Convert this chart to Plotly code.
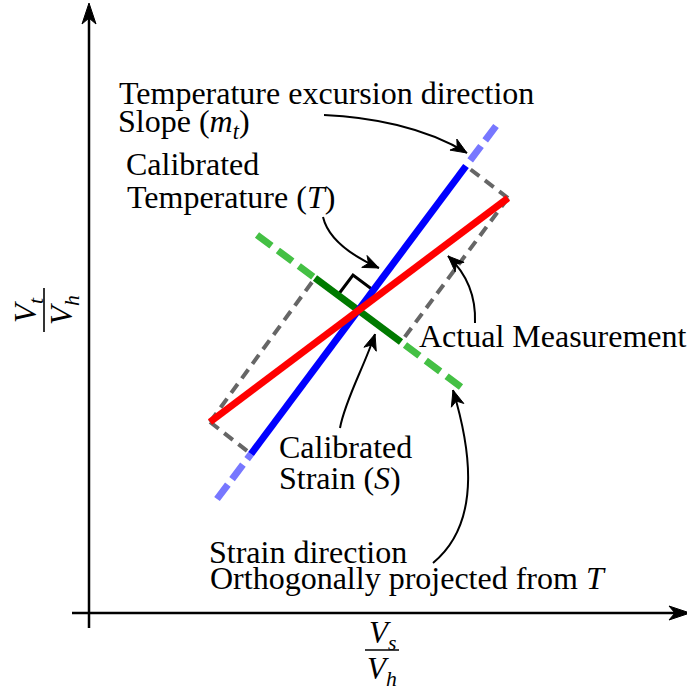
import plotly.graph_objects as go
import numpy as np

# ---------------- data (diagram coordinates, origin at the axes' crossing) ----------------
measurement_x = [121, 419]
measurement_y = [191, 415]

temperature_x = [162, 377]
temperature_y = [159, 447]
temp_ext_upper_x = [407, 377]
temp_ext_upper_y = [487, 447]
temp_ext_lower_x = [128, 162]
temp_ext_lower_y = [114, 159]

strain_x = [226, 312]
strain_y = [335, 271]
strain_ext_left_x = [168, 226]
strain_ext_left_y = [378, 335]
strain_ext_right_x = [372, 312]
strain_ext_right_y = [226, 271]

proj_segments = [
    ([419, 377], [415, 447]),
    ([419, 312], [415, 271]),
    ([121, 162], [191, 159]),
    ([121, 226], [191, 335]),
]

right_angle_x = [249, 264, 284]
right_angle_y = [318, 338, 323]

# curved callout arrows: start, control1, control2, tip
arrow_curves = [
    [(235, 498), (281, 496), (336, 486), (378, 460)],
    [(234, 396), (239, 375), (261, 358), (290, 345)],
    [(386, 290), (387, 315), (379, 338), (359, 357)],
    [(251, 185), (256, 213), (276, 248), (286, 279)],
    [(344, 50), (396, 93), (379, 173), (364, 223)],
]

# text labels: (x, y, text)
labels = [
    (28, 520, "Temperature excursion direction"),
    (27, 490, "Slope (<i>m</i><sub><i>t</i></sub>)"),
    (35, 449, "Calibrated"),
    (36, 416, "Temperature (<i>T</i>)"),
    (328, 277, "Actual Measurement"),
    (188, 166, "Calibrated"),
    (188, 135, "Strain (<i>S</i>)"),
    (118, 61, "Strain direction"),
    (119, 35, "Orthogonally projected from <i>T</i>"),
]

y_axis_x = [0, 0]
y_axis_y = [-15, 610]
x_axis_x = [-17, 601]
x_axis_y = [0, 0]

FONT = "Liberation Serif"
FS = 32

fig = go.Figure()

def seg(x, y, color, width, dash="solid"):
    fig.add_trace(go.Scatter(x=x, y=y, mode="lines",
                             line=dict(color=color, width=width, dash=dash),
                             hoverinfo="skip", showlegend=False))

for sx, sy in proj_segments:
    seg(sx, sy, "#666666", 4, "11px,7px")
seg(temp_ext_upper_x, temp_ext_upper_y, "#7777ff", 7, "18px,7px")
seg(temp_ext_lower_x, temp_ext_lower_y, "#7777ff", 7, "18px,7px")
seg(strain_ext_left_x, strain_ext_left_y, "#44c044", 7, "18px,8px")
seg(strain_ext_right_x, strain_ext_right_y, "#44c044", 7, "18px,8px")
seg(right_angle_x, right_angle_y, "black", 3)
seg(strain_x, strain_y, "#007a00", 7)
seg(temperature_x, temperature_y, "#0000ff", 7)
seg(measurement_x, measurement_y, "#ff0000", 7)

shapes = []

def head_path(tip, frm, L, Wd):
    tip = np.array(tip, float)
    frm = np.array(frm, float)
    d = tip - frm
    d /= np.linalg.norm(d)
    n = np.array([-d[1], d[0]])
    back = tip - L * d
    left = back + Wd * n
    right = back - Wd * n
    notch = tip - 0.72 * L * d
    pts = [tip, left, notch, right]
    return "M " + " L ".join(f"{p[0]:.2f},{p[1]:.2f}" for p in pts) + " Z"

for p0, p1, p2, p3 in arrow_curves:
    shapes.append(dict(type="path", xref="x", yref="y",
                       path=f"M {p0[0]},{p0[1]} C {p1[0]},{p1[1]} {p2[0]},{p2[1]} {p3[0]},{p3[1]}",
                       line=dict(color="black", width=2), fillcolor="rgba(0,0,0,0)", layer="above"))
    shapes.append(dict(type="path", xref="x", yref="y", path=head_path(p3, p2, 16, 6.5),
                       line=dict(color="black", width=1), fillcolor="black", layer="above"))

# axes
shapes.append(dict(type="line", xref="x", yref="y", x0=y_axis_x[0], y0=y_axis_y[0],
                   x1=y_axis_x[1], y1=y_axis_y[1] - 10, line=dict(color="black", width=2.5)))
shapes.append(dict(type="path", xref="x", yref="y",
                   path=head_path((y_axis_x[1], y_axis_y[1]), (y_axis_x[0], y_axis_y[0]), 21, 7),
                   line=dict(color="black", width=1), fillcolor="black"))
shapes.append(dict(type="line", xref="x", yref="y", x0=x_axis_x[0], y0=x_axis_y[0],
                   x1=x_axis_x[1] - 10, y1=x_axis_y[1], line=dict(color="black", width=2.5)))
shapes.append(dict(type="path", xref="x", yref="y",
                   path=head_path((x_axis_x[1], x_axis_y[1]), (x_axis_x[0], x_axis_y[0]), 21, 7),
                   line=dict(color="black", width=1), fillcolor="black"))

# fraction bars of axis titles
shapes.append(dict(type="line", xref="x", yref="y", x0=276, y0=-37, x1=310, y1=-37,
                   line=dict(color="black", width=1.6)))
shapes.append(dict(type="line", xref="x", yref="y", x0=-45, y0=281, x1=-45, y1=325,
                   line=dict(color="black", width=1.6)))

annotations = []
for x, y, t in labels:
    annotations.append(dict(x=x, y=y, xref="x", yref="y", text=t, showarrow=False,
                            xanchor="left", yanchor="middle",
                            font=dict(family=FONT, size=FS, color="black")))

annotations += [
    dict(x=293, y=-22, text="<i>V</i><sub><i>s</i></sub>"),
    dict(x=293, y=-58, text="<i>V</i><sub><i>h</i></sub>"),
    dict(x=-61, y=303, text="<i>V</i><sub><i>t</i></sub>", textangle=-90),
    dict(x=-25, y=303, text="<i>V</i><sub><i>h</i></sub>", textangle=-90),
]
for a in annotations[-4:]:
    a.update(xref="x", yref="y", showarrow=False, xanchor="center", yanchor="middle",
             font=dict(family=FONT, size=31, color="black"))

fig.update_layout(
    width=687, height=691,
    margin=dict(l=0, r=0, t=0, b=0),
    paper_bgcolor="white", plot_bgcolor="white",
    xaxis=dict(range=[-89, 598], visible=False, fixedrange=True),
    yaxis=dict(range=[-78, 613], visible=False, fixedrange=True),
    shapes=shapes, annotations=annotations, showlegend=False,
)

fig.write_html("out.html", config={"displayModeBar": False},
               post_script="document.body.style.margin='0';document.body.style.overflow='hidden';")
